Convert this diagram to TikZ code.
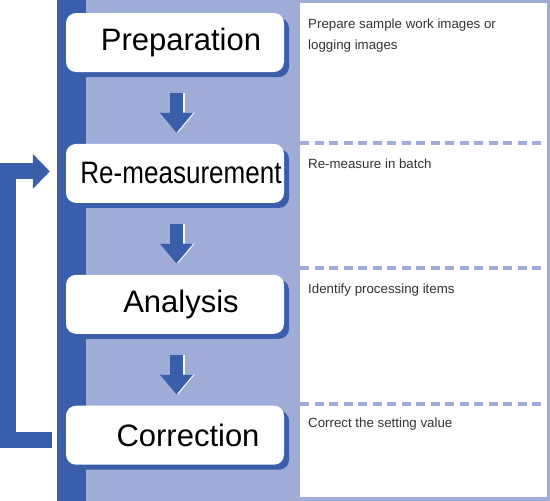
\documentclass[tikz,border=0pt]{standalone}
\usepackage{fontspec}
\setmainfont{Liberation Sans}
\usepackage{graphicx}
\usetikzlibrary{positioning, arrows.meta, shadows}
\definecolor{stripblue}{RGB}{59,94,171}
\definecolor{paleblue}{RGB}{160,172,216}
\definecolor{notegray}{RGB}{51,51,51}
\tikzset{
stage/.style={fill=white, rounded corners=10pt, minimum width=218pt, minimum height=59pt, inner sep=0pt,
  font=\fontsize{31}{36}\selectfont, execute at begin node={\hspace*{12pt}},
  drop shadow={shadow xshift=5pt, shadow yshift=-5pt, fill=stripblue, opacity=1}}, % white step boxes
note/.style={anchor=north west, inner sep=0pt, align=left, text=notegray, font=\fontsize{13.3}{20.5}\selectfont}, % remarks on the right
flowarrow/.style={draw=stripblue, line width=13pt, -{Triangle[width=32pt,length=20pt]}, shorten <=21pt, shorten >=11pt},
flowshine/.style={flowarrow, draw=white, fill=white},
loopback/.style={draw=stripblue, line width=16pt, -{Triangle[width=34pt,length=17pt]}},
sectionline/.style={draw=paleblue, line width=4.5pt, dash pattern=on 9pt off 5.5pt},
}
\begin{document}
\begin{tikzpicture}[x=1pt, y=-1pt]
  \useasboundingbox (0,0) rectangle (550,501);
  % background panels
  \fill[paleblue] (86,0) rectangle (550,501);
  \fill[stripblue] (57,0) rectangle (86,501);
  \fill[white] (300,3) rectangle (547,497);
  \foreach \y in {143,268,404}
    \draw[sectionline] (300,\y) -- (550,\y);

  % steps
  \node[stage] (prep) at (175,42.5) {Preparation};
  \node[stage, below=71.5pt of prep] (remeas) {\scalebox{0.84}[1]{Re-measurement}};
  \node[stage, below=71.5pt of remeas] (anal) {Analysis};
  \node[stage, below=71.5pt of anal] (corr) {\hspace*{14pt}Correction};

  % remarks
  \node[note] (note1) at (308,19) {Prepare sample work images or\\logging images};
  \node[note] (note2) at (308,159) {Re-measure in batch};
  \node[note] (note3) at (308,284) {Identify processing items};
  \node[note] (note4) at (308,418) {Correct the setting value};

  % flow
  \foreach \a/\b in {prep/remeas, remeas/anal, anal/corr} {
    \draw[flowshine] ([xshift=3pt]\a.south) -- ([xshift=3pt]\b.north);
    \draw[flowarrow] ([xshift=1.5pt]\a.south) -- ([xshift=1.5pt]\b.north);
  }
  \draw[loopback] ([xshift=-14pt,yshift=-5pt]corr.west) -| ([xshift=-58pt,yshift=2pt]remeas.west)
    -- ([xshift=-16pt,yshift=2pt]remeas.west);
\end{tikzpicture}
\end{document}
